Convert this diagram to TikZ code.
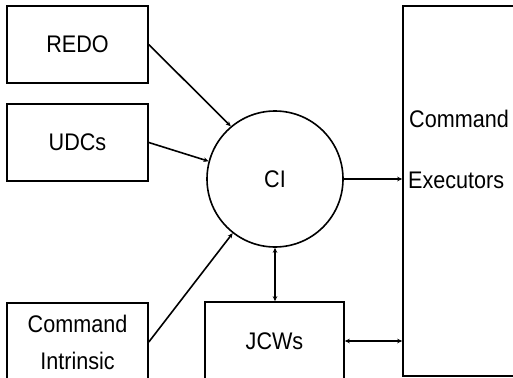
\documentclass[tikz,border=0pt]{standalone}
\usepackage{fontspec}
\setmainfont[FakeStretch=0.9]{Liberation Sans}
\usetikzlibrary{arrows.meta,calc}
\begin{document}
\begin{tikzpicture}[x=1pt,y=-1pt,
  every node/.style={font=\fontsize{24}{27}\selectfont, inner sep=0pt},
  box/.style={draw, line width=1.6pt, minimum width=141pt},
  link/.style={line width=1.6pt},
  arr/.style={link, -{Stealth[length=5pt,width=4.5pt]}},
  darr/.style={link, {Stealth[length=5pt,width=4.5pt]}-{Stealth[length=5pt,width=4.5pt]}}]
\useasboundingbox (0,0) rectangle (513,377);
\clip (0,0) rectangle (513,377);
\node[box, minimum height=77pt] (redo) at (77.5,44.5) {REDO};
\node[box, minimum height=77pt] (udcs) at (77.5,142.5) {UDCs};
\node[box, minimum height=78pt, align=center] (intr) at (77.5,342)
  {Command\\[10pt]Intrinsic};
\node[draw, circle, line width=1.6pt, minimum size=136pt] (ci) at (275,179) {CI};
\node[box, minimum width=139pt, minimum height=78pt] (jcws) at (274.5,341) {JCWs};
\node[draw, line width=1.6pt, minimum width=140pt, minimum height=370pt] (exec) at (473,191) {};
\node[anchor=west] (cmd) at (409,119) {Command};
\node[anchor=west] (exe) at (408,180) {Executors};
\draw[arr] (redo.east) -- (ci.130);
\draw[arr] (udcs.east) -- (ci.165);
\draw[arr] (intr.east) -- (ci.232);
\draw[arr] (ci.east) -- (ci.east -| exec.west);
\draw[darr] (ci.south) -- (ci.south |- jcws.north);
\draw[darr] (jcws.east) -- (jcws.east -| exec.west);
\end{tikzpicture}
\end{document}
